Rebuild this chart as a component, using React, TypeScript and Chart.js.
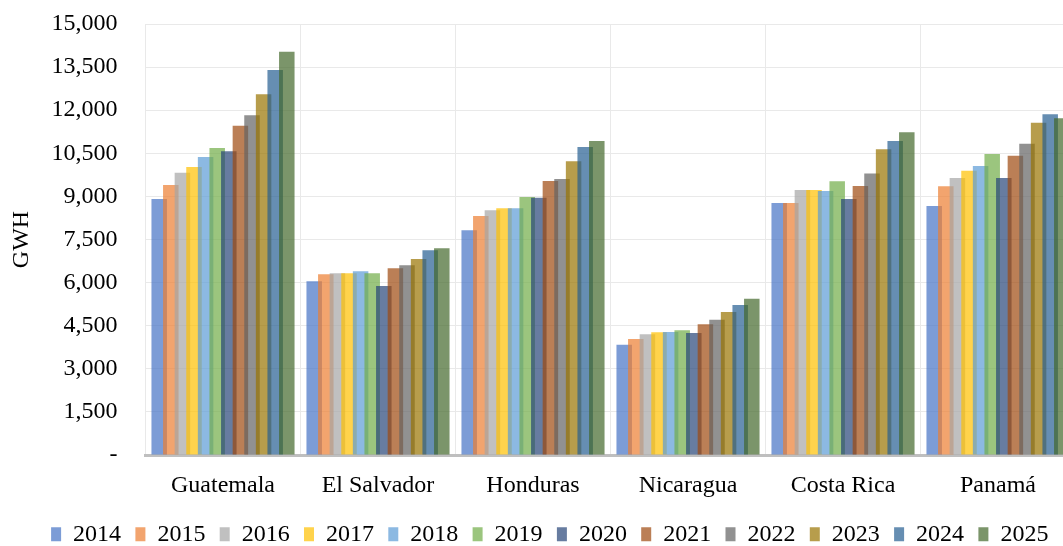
import React, { useEffect, useRef } from "react";
import { Chart, registerables } from "chart.js";

Chart.register(...registerables);

const categories = ["Guatemala", "El Salvador", "Honduras", "Nicaragua", "Costa Rica", "Panamá"];
const years = ["2014", "2015", "2016", "2017", "2018", "2019", "2020", "2021", "2022", "2023", "2024", "2025"];

const v2014 = [8910, 6045, 7820, 3840, 8771, 8667];
const v2015 = [9398, 6289, 8319, 4038, 8771, 9352];
const v2016 = [9826, 6324, 8517, 4200, 9224, 9641];
const v2017 = [10024, 6324, 8587, 4270, 9224, 9897];
const v2018 = [10372, 6393, 8587, 4281, 9189, 10059];
const v2019 = [10686, 6324, 8980, 4340, 9526, 10477];
const v2020 = [10570, 5882, 8957, 4247, 8910, 9641];
const v2021 = [11462, 6498, 9537, 4548, 9363, 10418];
const v2022 = [11823, 6602, 9607, 4710, 9793, 10836];
const v2023 = [12554, 6822, 10222, 4977, 10640, 11567];
const v2024 = [13400, 7125, 10720, 5221, 10929, 11857];
const v2025 = [14038, 7195, 10929, 5441, 11230, 11718];

const seriesValues = [v2014, v2015, v2016, v2017, v2018, v2019, v2020, v2021, v2022, v2023, v2024, v2025];

const yTickValues = [0, 1500, 3000, 4500, 6000, 7500, 9000, 10500, 12000, 13500, 15000];

const baseColors = [
  "#4472C4", "#ED7D31", "#A5A5A5", "#FFC000", "#5B9BD5", "#70AD47",
  "#264478", "#9E480E", "#636363", "#997300", "#255E91", "#43682B",
];

function withAlpha(hex: string, a: number) {
  const r = parseInt(hex.slice(1, 3), 16);
  const g = parseInt(hex.slice(3, 5), 16);
  const b = parseInt(hex.slice(5, 7), 16);
  return `rgba(${r},${g},${b},${a})`;
}

const FONT = "'Liberation Serif', 'Times New Roman', serif";

// Excel draws later series on top of earlier ones
const drawOrderPlugin = {
  id: "excelDrawOrder",
  beforeDatasetsDraw(chart: any) {
    const metas = chart.getSortedVisibleDatasetMetas();
    for (const m of metas) m.controller.draw();
    return false;
  },
};

// nudge the legend row to sit where the original's does
const legendShiftPlugin = {
  id: "legendShift",
  afterLayout(chart: any) {
    if (chart.legend) {
      chart.legend.left += 12;
      chart.legend.right += 12;
    }
  },
};

export default function App() {
  const ref = useRef<HTMLCanvasElement | null>(null);

  useEffect(() => {
    if (!ref.current) return;
    const chart = new Chart(ref.current, {
      type: "bar",
      data: {
        labels: categories,
        datasets: years.map((y, i) => ({
          label: y,
          data: seriesValues[i],
          backgroundColor: withAlpha(baseColors[i], 0.7),
          borderWidth: 0,
          categoryPercentage: 0.898,
          barPercentage: 1.336,
        })),
      },
      options: {
        animation: false,
        responsive: false,
        devicePixelRatio: 1,
        layout: { padding: { top: 24, right: 14.5, left: 0, bottom: 0 } },
        font: { family: FONT, size: 24 },
        plugins: {
          legend: {
            position: "bottom",
            maxHeight: 38,
            labels: {
              boxWidth: 10,
              boxHeight: 14,
              padding: 14.3,
              color: "#000",
              font: { family: FONT, size: 24 },
            },
          },
          tooltip: { enabled: false },
        },
        scales: {
          x: {
            z: 1,
            grid: { color: "#e9e9e9", lineWidth: 1, drawTicks: false, offset: true },
            border: { color: "#bfbfbf", width: 3 },
            ticks: { color: "#000", font: { family: FONT, size: 24 }, padding: 16, maxRotation: 0 },
            afterFit: (s: any) => { s.height = 53; s.paddingLeft = 0; s.paddingRight = 0; },
          },
          y: {
            min: 0,
            max: 15000,
            afterBuildTicks: (s: any) => { s.ticks = yTickValues.map((v) => ({ value: v })); },
            grid: { color: "#e9e9e9", lineWidth: 1, drawTicks: false },
            border: { display: false },
            ticks: {
              color: "#000",
              font: { family: FONT, size: 24 },
              padding: 28,
              callback: (v: any) => (Number(v) === 0 ? "-" : Number(v).toLocaleString("en-US")),
            },
            title: {
              display: true,
              text: "GWH",
              color: "#000",
              font: { family: FONT, size: 24 },
              padding: { top: 7, bottom: 0 },
            },
            afterFit: (s: any) => { s.width = 145.5; s.paddingTop = 0; s.paddingBottom = 0; },
          },
        },
      },
      plugins: [drawOrderPlugin, legendShiftPlugin],
    } as any);
    return () => chart.destroy();
  }, []);

  return (
    <div style={{ position: "fixed", left: 0, top: 0, width: 1063, height: 546, overflow: "hidden", background: "#fff" }}>
      <canvas ref={ref} width={1090} height={546} style={{ display: "block", width: 1090, height: 546 }} />
    </div>
  );
}
